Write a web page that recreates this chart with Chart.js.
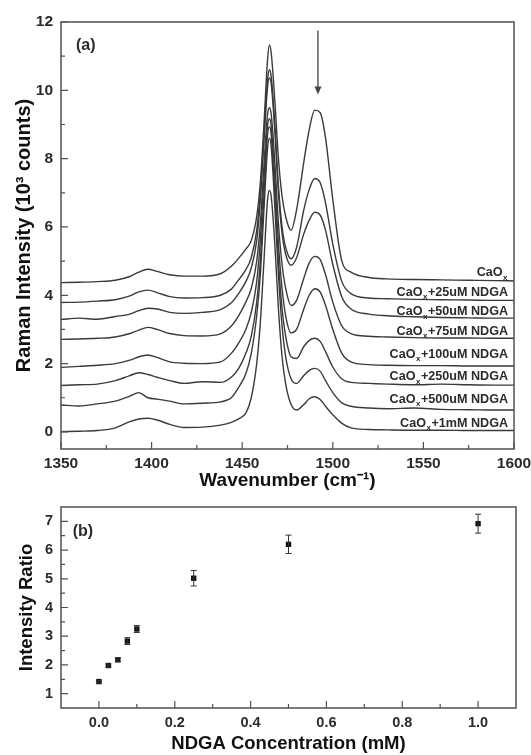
<!DOCTYPE html>
<html lang="en">
<head>
    <meta charset="UTF-8">
    <title>Raman spectra - CaOx with NDGA</title>
    <script src="https://cdn.jsdelivr.net/npm/chart.js"></script>
    <style>
        body { margin: 0; background: #ffffff; }
        #wrap { position: relative; width: 531px; height: 755px; }
        canvas { position: absolute; left: 0; }
        #spectra { top: 0; }
        #ratioChart { top: 495px; }
    </style>
</head>
<body>
<div id="wrap">
    <canvas id="spectra" width="531" height="495"></canvas>
    <canvas id="ratioChart" width="531" height="260"></canvas>
</div>
<script>
    // ---- panel (a): Raman spectra (10^3 counts) ----
    const wavenumber = [1350, 1360, 1370, 1380, 1388, 1393, 1398, 1403, 1410, 1418, 1428, 1438, 1444, 1448, 1452, 1455,
        1458, 1460, 1462, 1464, 1465, 1466, 1468, 1470, 1472, 1474, 1477, 1480, 1484, 1487, 1490, 1493, 1496, 1500,
        1505, 1510, 1520, 1530, 1545, 1560, 1575, 1590, 1600];

    const caox = [4.37, 4.38, 4.40, 4.44, 4.55, 4.68, 4.76, 4.70, 4.60, 4.56, 4.56, 4.63, 4.85, 5.08, 5.35, 5.6,
        6.3, 7.3, 9.0, 10.9, 11.33, 11.1, 9.7, 8.0, 6.9, 6.3, 5.9, 6.5, 7.9, 8.85, 9.42, 9.35, 8.6, 6.8,
        5.0, 4.68, 4.52, 4.48, 4.46, 4.45, 4.44, 4.43, 4.42];
    const ndga25 = [3.79, 3.80, 3.83, 3.87, 3.98, 4.10, 4.15, 4.08, 3.96, 3.92, 3.93, 4.0, 4.18, 4.45, 4.75, 5.1,
        5.9, 7.0, 8.7, 10.3, 10.6, 10.4, 9.0, 7.2, 6.0, 5.4, 5.07, 5.4, 6.5, 7.1, 7.42, 7.3, 6.7, 5.5,
        4.4, 4.05, 3.92, 3.90, 3.88, 3.87, 3.86, 3.85, 3.85];
    const ndga50 = [3.29, 3.33, 3.30, 3.38, 3.45, 3.55, 3.62, 3.60, 3.50, 3.47, 3.50, 3.58, 3.78, 4.05, 4.4, 4.8,
        5.6, 6.8, 8.5, 10.1, 10.36, 10.2, 8.8, 7.0, 5.8, 5.2, 4.88, 5.1, 5.8, 6.2, 6.43, 6.35, 5.9, 4.9,
        3.95, 3.6, 3.45, 3.40, 3.37, 3.35, 3.34, 3.33, 3.33];
    const ndga75 = [2.71, 2.72, 2.74, 2.78, 2.88, 2.98, 3.06, 3.0, 2.88, 2.82, 2.81, 2.87, 3.1, 3.4, 3.8, 4.2,
        5.0, 6.1, 7.8, 9.3, 9.49, 9.3, 7.9, 6.1, 4.9, 4.2, 3.7, 3.85, 4.5, 4.95, 5.14, 5.05, 4.6, 3.8,
        3.1, 2.88, 2.8, 2.78, 2.76, 2.75, 2.75, 2.74, 2.74];
    const ndga100 = [1.89, 1.92, 1.95, 2.0, 2.1, 2.2, 2.25, 2.18, 2.05, 2.01, 2.0, 2.05, 2.3, 2.6, 3.0, 3.5,
        4.4, 5.6, 7.4, 8.95, 9.17, 8.95, 7.4, 5.5, 4.2, 3.4, 2.9, 3.0, 3.6, 4.0, 4.19, 4.1, 3.7, 3.0,
        2.3, 2.05, 1.97, 1.95, 1.94, 1.94, 1.93, 1.93, 1.93];
    const ndga250 = [1.36, 1.38, 1.40, 1.5, 1.65, 1.73, 1.68, 1.6, 1.5, 1.42, 1.47, 1.45, 1.6, 1.85, 2.3, 2.8,
        3.8, 5.0, 6.9, 8.7, 8.93, 8.7, 7.0, 5.0, 3.6, 2.8, 2.2, 2.15, 2.5, 2.68, 2.74, 2.65, 2.35, 1.9,
        1.55, 1.45, 1.42, 1.40, 1.38, 1.4, 1.38, 1.37, 1.37];
    const ndga500 = [0.79, 0.76, 0.82, 0.9, 1.05, 1.15, 1.0, 0.96, 0.9, 0.82, 0.84, 0.88, 1.0, 1.3, 1.7, 2.3,
        3.4, 4.6, 6.5, 8.3, 8.6, 8.35, 6.6, 4.6, 3.1, 2.2, 1.55, 1.42, 1.65, 1.8, 1.86, 1.78, 1.5, 1.15,
        0.85, 0.75, 0.7, 0.68, 0.7, 0.66, 0.65, 0.64, 0.64];
    const ndga1m = [0.01, 0.02, 0.04, 0.12, 0.3, 0.38, 0.4, 0.35, 0.22, 0.13, 0.14, 0.2, 0.28, 0.38, 0.55, 1.0,
        2.0, 3.2, 5.0, 6.8, 7.07, 6.9, 5.5, 3.6, 2.2, 1.4, 0.8, 0.64, 0.8, 0.97, 1.03, 0.95, 0.75, 0.5,
        0.25, 0.12, 0.07, 0.06, 0.05, 0.05, 0.04, 0.04, 0.04];

    const spectra = [caox, ndga25, ndga50, ndga75, ndga100, ndga250, ndga500, ndga1m];
    const additive = ['', '+25uM NDGA', '+50uM NDGA', '+75uM NDGA', '+100uM NDGA', '+250uM NDGA', '+500uM NDGA', '+1mM NDGA'];
    const labelY = [4.67, 4.09, 3.53, 2.95, 2.28, 1.61, 0.96, 0.26];   // where each curve's name sits

    const specXTicks = [1350, 1400, 1450, 1500, 1550, 1600];
    const specXMinor = [1375, 1425, 1475, 1525, 1575];
    const specYTicks = [0, 2, 4, 6, 8, 10, 12];
    const specYMinor = [1, 3, 5, 7, 9, 11];

    // ---- panel (b): intensity ratio vs NDGA concentration ----
    const concentration = [0, 0.025, 0.05, 0.075, 0.1, 0.25, 0.5, 1.0];
    const ratio = [1.42, 1.98, 2.18, 2.83, 3.25, 5.02, 6.2, 6.92];
    const ratioErr = [0.04, 0.05, 0.07, 0.12, 0.12, 0.27, 0.32, 0.33];

    const ratioXTicks = [0, 0.2, 0.4, 0.6, 0.8, 1.0];
    const ratioXMinor = [0.1, 0.3, 0.5, 0.7, 0.9];
    const ratioYTicks = [1, 2, 3, 4, 5, 6, 7];
    const ratioYMinor = [1.5, 2.5, 3.5, 4.5, 5.5, 6.5];

    const FONT = "'Liberation Sans', Arial, sans-serif";
    const INK = '#2b2b2b';

    // box round the plot + inward tick marks, all placed with the chart's scales
    const framePlugin = {
        id: 'frame',
        afterDatasetsDraw(chart, args, opts) {
            const {ctx, chartArea: a, scales: {x, y}} = chart;
            ctx.save();
            ctx.strokeStyle = '#505050';
            ctx.lineWidth = 1.5;
            ctx.strokeRect(a.left, a.top, a.right - a.left, a.bottom - a.top);
            ctx.lineWidth = 1.2;
            ctx.beginPath();
            const xt = (v, len) => { const p = x.getPixelForValue(v); ctx.moveTo(p, a.bottom); ctx.lineTo(p, a.bottom - len); };
            const yt = (v, len) => { const p = y.getPixelForValue(v); ctx.moveTo(a.left, p); ctx.lineTo(a.left + len, p); };
            opts.xMajor.forEach(v => xt(v, 7));
            opts.xMinor.forEach(v => xt(v, 4));
            opts.yMajor.forEach(v => yt(v, 7));
            opts.yMinor.forEach(v => yt(v, 4));
            ctx.stroke();
            ctx.restore();
        }
    };

    // curve names, arrow and panel letter for (a)
    const spectraNotes = {
        id: 'spectraNotes',
        afterDatasetsDraw(chart) {
            const {ctx, scales: {x, y}} = chart;
            ctx.save();
            ctx.fillStyle = INK;
            ctx.textBaseline = 'middle';
            const big = 'bold 12.6px ' + FONT, small = 'bold 8px ' + FONT;
            const right = x.getPixelForValue(1596.7);
            additive.forEach((rest, i) => {
                const py = y.getPixelForValue(labelY[i]);
                ctx.font = big;
                const w1 = ctx.measureText('CaO').width;
                const w3 = ctx.measureText(rest).width;
                ctx.font = small;
                const w2 = ctx.measureText('x').width + 1;
                let px = right - (w1 + w2 + w3);
                ctx.font = big;
                ctx.fillText('CaO', px, py);
                ctx.font = small;
                ctx.fillText('x', px + w1 + 0.5, py + 5);
                ctx.font = big;
                ctx.fillText(rest, px + w1 + w2, py);
            });

            // arrow over the 1490 band
            const ax = x.getPixelForValue(1491.8);
            const y0 = y.getPixelForValue(11.75), y1 = y.getPixelForValue(9.88);
            ctx.strokeStyle = '#444';
            ctx.fillStyle = '#444';
            ctx.lineWidth = 1.3;
            ctx.beginPath();
            ctx.moveTo(ax, y0);
            ctx.lineTo(ax, y1 - 6);
            ctx.stroke();
            ctx.beginPath();
            ctx.moveTo(ax - 3.5, y1 - 8);
            ctx.lineTo(ax + 3.5, y1 - 8);
            ctx.lineTo(ax, y1);
            ctx.closePath();
            ctx.fill();

            ctx.fillStyle = INK;
            ctx.font = 'bold 16px ' + FONT;
            ctx.textBaseline = 'middle';
            ctx.fillText('(a)', x.getPixelForValue(1358.3), y.getPixelForValue(11.3));
            ctx.restore();
        }
    };

    // error bars and panel letter for (b)
    const ratioNotes = {
        id: 'ratioNotes',
        afterDatasetsDraw(chart) {
            const {ctx, scales: {x, y}} = chart;
            ctx.save();
            ctx.strokeStyle = '#333';
            ctx.lineWidth = 1;
            ctx.beginPath();
            concentration.forEach((c, i) => {
                const px = x.getPixelForValue(c);
                const top = y.getPixelForValue(ratio[i] + ratioErr[i]);
                const bot = y.getPixelForValue(ratio[i] - ratioErr[i]);
                ctx.moveTo(px, top); ctx.lineTo(px, bot);
                ctx.moveTo(px - 3, top); ctx.lineTo(px + 3, top);
                ctx.moveTo(px - 3, bot); ctx.lineTo(px + 3, bot);
            });
            ctx.stroke();
            ctx.fillStyle = INK;
            ctx.font = 'bold 16px ' + FONT;
            ctx.textBaseline = 'middle';
            ctx.fillText('(b)', x.getPixelForValue(-0.069), y.getPixelForValue(6.63));
            ctx.restore();
        }
    };

    const tickFont = (size) => ({ family: FONT, size: size, weight: 'bold' });
    // fixed axis boxes so both plot areas line up with the figure
    const fixX = h => s => { s.height = h; s.paddingLeft = 0; s.paddingRight = 0; };
    const fixY = s => { s.width = 61; s.paddingTop = 0; s.paddingBottom = 0; };

    new Chart(document.getElementById('spectra'), {
        type: 'scatter',
        data: {
            datasets: spectra.map((s, i) => ({
                label: 'CaOx' + additive[i],
                data: wavenumber.map((w, k) => ({ x: w, y: s[k] })),
                showLine: true,
                borderColor: '#3a3a3a',
                borderWidth: 1.4,
                pointRadius: 0,
                cubicInterpolationMode: 'monotone'
            }))
        },
        options: {
            responsive: false,
            animation: false,
            layout: { padding: { top: 22, right: 17, left: 0, bottom: 0 } },
            plugins: {
                legend: { display: false },
                tooltip: { enabled: false },
                frame: { xMajor: specXTicks, xMinor: specXMinor, yMajor: specYTicks, yMinor: specYMinor }
            },
            scales: {
                x: {
                    type: 'linear', min: 1350, max: 1600,
                    afterBuildTicks: s => { s.ticks = specXTicks.map(v => ({ value: v })); },
                    afterFit: fixX(46),
                    grid: { display: false, drawTicks: false },
                    border: { display: false },
                    ticks: { color: INK, font: tickFont(15.5), padding: 5, maxRotation: 0, callback: v => String(v) },
                    title: { display: true, text: 'Wavenumber (cm⁻¹)', color: '#111', font: tickFont(19), padding: { top: 0, bottom: 3 } }
                },
                y: {
                    min: -0.5, max: 12,
                    afterBuildTicks: s => { s.ticks = specYTicks.map(v => ({ value: v })); },
                    afterFit: fixY,
                    grid: { display: false, drawTicks: false },
                    border: { display: false },
                    ticks: { color: INK, font: tickFont(15.5), padding: 8 },
                    title: { display: true, text: 'Raman Intensity (10³ counts)', color: '#111', font: tickFont(20), padding: { top: 12, bottom: 0 } }
                }
            }
        },
        plugins: [framePlugin, spectraNotes]
    });

    new Chart(document.getElementById('ratioChart'), {
        type: 'scatter',
        data: {
            datasets: [{
                label: 'Intensity Ratio',
                data: concentration.map((c, i) => ({ x: c, y: ratio[i] })),
                pointStyle: 'rect',
                pointRadius: 3.8,
                backgroundColor: '#111',
                borderColor: '#111',
                borderWidth: 0
            }]
        },
        options: {
            responsive: false,
            animation: false,
            layout: { padding: { top: 12, right: 15, left: 0, bottom: 0 } },
            plugins: {
                legend: { display: false },
                tooltip: { enabled: false },
                frame: { xMajor: ratioXTicks, xMinor: ratioXMinor, yMajor: ratioYTicks, yMinor: ratioYMinor }
            },
            scales: {
                x: {
                    type: 'linear', min: -0.1, max: 1.1,
                    afterBuildTicks: s => { s.ticks = ratioXTicks.map(v => ({ value: v })); },
                    afterFit: fixX(47),
                    grid: { display: false, drawTicks: false },
                    border: { display: false },
                    ticks: { color: INK, font: tickFont(14.5), padding: 6, maxRotation: 0, callback: v => v.toFixed(1) },
                    title: { display: true, text: 'NDGA Concentration (mM)', color: '#111', font: tickFont(18.5), padding: { top: 0, bottom: 0 } }
                },
                y: {
                    min: 0.5, max: 7.5,
                    afterBuildTicks: s => { s.ticks = ratioYTicks.map(v => ({ value: v })); },
                    afterFit: fixY,
                    grid: { display: false, drawTicks: false },
                    border: { display: false },
                    ticks: { color: INK, font: tickFont(14.5), padding: 8 },
                    title: { display: true, text: 'Intensity Ratio', color: '#111', font: tickFont(18.5), padding: { top: 16, bottom: 0 } }
                }
            }
        },
        plugins: [framePlugin, ratioNotes]
    });
</script>
</body>
</html>
